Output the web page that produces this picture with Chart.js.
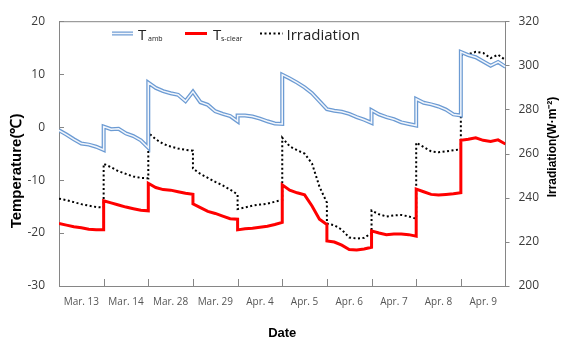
<!DOCTYPE html>
<html>
<head>
<meta charset="utf-8">
<script src="https://cdn.jsdelivr.net/npm/chart.js@4.4.1/dist/chart.umd.min.js"></script>
<style>
html,body{margin:0;padding:0;background:#fff;}
canvas{display:block;}
</style>
</head>
<body>
<canvas id="c" width="562" height="342"></canvas>
<script>
const dayLabels = ['Mar. 13','Mar. 14','Mar. 28','Mar. 29','Apr. 4','Apr. 5','Apr. 6','Apr. 7','Apr. 8','Apr. 9'];
const tempTicks = [-30, -20, -10, 0, 10, 20];
const irrTicks = [200, 220, 240, 260, 280, 300, 320];

// one row per day, values sampled evenly from start to end of that day
const tAmb = [
  [-0.6, -1.4, -2.3, -3.1, -3.3, -3.7, -4.3],
  [0.1, -0.4, -0.3, -1.2, -1.7, -2.5, -3.9],
  [8.4, 7.4, 6.8, 6.4, 6.1, 4.9, 6.7],
  [6.7, 4.7, 4.2, 3.0, 2.5, 2.1, 1.1],
  [2.2, 2.2, 2.0, 1.6, 1.1, 0.7, 0.6],
  [9.9, 9.2, 8.4, 7.5, 6.4, 4.9, 3.4],
  [3.4, 3.1, 2.9, 2.5, 1.9, 1.4, 0.8],
  [3.2, 2.4, 1.9, 1.5, 0.9, 0.6, 0.3],
  [5.3, 4.6, 4.3, 3.9, 3.3, 2.4, 2.2],
  [14.2, 13.6, 13.2, 12.4, 11.6, 12.3, 11.4]
];
const tsClear = [
  [-18.2, -18.5, -18.8, -19.0, -19.3, -19.4, -19.4],
  [-13.9, -14.3, -14.7, -15.1, -15.4, -15.7, -15.8],
  [-10.6, -11.4, -11.8, -11.9, -12.2, -12.5, -12.7],
  [-14.5, -15.2, -15.9, -16.3, -16.8, -17.3, -17.4],
  [-19.4, -19.2, -19.1, -18.9, -18.7, -18.4, -18.0],
  [-10.9, -11.9, -12.4, -12.8, -14.9, -17.4, -18.4],
  [-21.5, -21.7, -22.3, -23.1, -23.2, -23.0, -22.7],
  [-19.6, -20.0, -20.3, -20.2, -20.2, -20.3, -20.6],
  [-11.7, -12.2, -12.7, -12.8, -12.7, -12.6, -12.4],
  [-2.5, -2.3, -2.0, -2.5, -2.7, -2.4, -3.2]
];
const irradiation = [
  [239.6, 238.9, 238.0, 237.1, 236.4, 235.8, 235.6],
  [255.4, 253.8, 252.0, 250.8, 249.6, 249.0, 248.8],
  [269.4, 266.5, 264.4, 263.2, 262.3, 261.7, 261.3],
  [253.2, 250.8, 249.0, 247.2, 245.6, 243.7, 241.5],
  [234.9, 235.6, 236.4, 236.9, 237.3, 238.2, 239.0],
  [267.2, 263.3, 261.5, 260.0, 255.5, 245.0, 237.8],
  [228.3, 227.5, 225.5, 222.0, 221.5, 221.8, 224.0],
  [234.2, 232.5, 231.5, 232.0, 232.2, 231.5, 230.5],
  [265.0, 263.0, 261.0, 260.6, 261.0, 261.5, 262.0],
  [304.6, 305.0, 306.1, 305.6, 303.3, 304.8, 302.4]
];

function toPoints(series) {
  const pts = [];
  series.forEach((day, d) => {
    day.forEach((v, i) => pts.push({ x: d + i / (day.length - 1), y: v }));
  });
  return pts;
}

const AXIS = '#868686';
const TXT = '#3a3a3a';
const BLUE_OUT = '#6c9bd3';
const BLUE_IN = '#f2f6fc';

const decor = {
  id: 'decor',
  afterDraw(chart) {
    const ctx = chart.ctx;
    const { x, y, y1 } = chart.scales;
    const a = chart.chartArea;
    ctx.save();
    ctx.strokeStyle = AXIS;
    ctx.lineWidth = 1;
    ctx.beginPath();
    // top border of the plot box
    ctx.moveTo(a.left, a.top + 0.5);
    ctx.lineTo(a.right, a.top + 0.5);
    // x tick marks at day boundaries (inward)
    for (let i = 1; i < dayLabels.length; i++) {
      const px = Math.round(x.getPixelForValue(i)) + 0.5;
      ctx.moveTo(px, a.bottom);
      ctx.lineTo(px, a.bottom - 7);
    }
    tempTicks.forEach(v => {
      const py = Math.round(y.getPixelForValue(v)) + 0.5;
      ctx.moveTo(a.left, py);
      ctx.lineTo(a.left + 5, py);
    });
    irrTicks.forEach(v => {
      const py = Math.round(y1.getPixelForValue(v)) + 0.5;
      ctx.moveTo(a.right, py);
      ctx.lineTo(a.right + 4, py);
    });
    ctx.stroke();

    // axis titles
    ctx.fillStyle = '#000';
    ctx.textAlign = 'center';
    ctx.textBaseline = 'middle';
    ctx.font = 'bold 15px "Liberation Sans", Arial, sans-serif';
    ctx.save();
    ctx.translate(16.5, 171);
    ctx.rotate(-Math.PI / 2);
    ctx.fillText('Temperature(℃)', 0, 0);
    ctx.restore();
    ctx.font = 'bold 12px "Liberation Sans", Arial, sans-serif';
    ctx.save();
    ctx.translate(553, 147);
    ctx.rotate(-Math.PI / 2);
    ctx.fillText('Irradiation(W·m⁻²)', 0, 0);
    ctx.restore();
    ctx.font = 'bold 13px "Liberation Sans", Arial, sans-serif';
    ctx.fillText('Date', (a.left + a.right) / 2, 333);

    // legend
    const ly = 33.5;
    ctx.lineCap = 'butt';
    ctx.setLineDash([]);
    ctx.strokeStyle = BLUE_OUT; ctx.lineWidth = 4;
    ctx.beginPath(); ctx.moveTo(112, ly); ctx.lineTo(133, ly); ctx.stroke();
    ctx.strokeStyle = BLUE_IN; ctx.lineWidth = 1.6;
    ctx.beginPath(); ctx.moveTo(112, ly); ctx.lineTo(133, ly); ctx.stroke();
    ctx.strokeStyle = '#ff0000'; ctx.lineWidth = 3;
    ctx.beginPath(); ctx.moveTo(185, ly); ctx.lineTo(207, ly); ctx.stroke();
    ctx.strokeStyle = '#000'; ctx.lineWidth = 2; ctx.setLineDash([2, 2.5]);
    ctx.beginPath(); ctx.moveTo(260, ly); ctx.lineTo(283, ly); ctx.stroke();
    ctx.setLineDash([]);
    ctx.fillStyle = '#222';
    ctx.textAlign = 'left';
    ctx.textBaseline = 'alphabetic';
    const big = '15px "Open Sans", sans-serif';
    const small = '7px "Open Sans", sans-serif';
    ctx.font = big; ctx.fillText('T', 138, 39.5);
    ctx.font = small; ctx.fillText('amb', 148, 40.5);
    ctx.font = big; ctx.fillText('T', 213, 39.5);
    ctx.font = small; ctx.fillText('s-clear', 221, 40.5);
    ctx.font = big; ctx.fillText('Irradiation', 286.5, 39.5);
    ctx.restore();
  }
};

// Chart.js paints the first dataset last (on top)
new Chart(document.getElementById('c'), {
  type: 'line',
  data: {
    datasets: [
      { label: 'Tamb-inner', data: toPoints(tAmb), yAxisID: 'y',
        borderColor: BLUE_IN, borderWidth: 1.5, pointRadius: 0, tension: 0 },
      { label: 'Tamb', data: toPoints(tAmb), yAxisID: 'y',
        borderColor: BLUE_OUT, borderWidth: 4, pointRadius: 0, tension: 0 },
      { label: 'Ts-clear', data: toPoints(tsClear), yAxisID: 'y',
        borderColor: '#ff0000', borderWidth: 3, pointRadius: 0, tension: 0 },
      { label: 'Irradiation', data: toPoints(irradiation), yAxisID: 'y1',
        borderColor: '#000', borderWidth: 2, borderDash: [2, 2.5], pointRadius: 0, tension: 0 }
    ]
  },
  options: {
    responsive: false,
    animation: false,
    devicePixelRatio: 1,
    layout: { padding: { top: 13, left: 0, right: 0, bottom: 0 } },
    plugins: { legend: { display: false }, tooltip: { enabled: false } },
    scales: {
      x: {
        type: 'linear', min: 0, max: 10,
        afterBuildTicks: s => { s.ticks = dayLabels.map((_, i) => ({ value: i + 0.5 })); },
        afterFit: s => { s.height = 56; },
        grid: { display: false, drawTicks: false },
        border: { display: true, color: AXIS, width: 1 },
        ticks: {
          autoSkip: false, maxRotation: 0, padding: 10, color: '#555',
          font: { family: '"Open Sans", sans-serif', size: 10 },
          callback: (v, i) => dayLabels[i]
        }
      },
      y: {
        position: 'left', min: -30, max: 20,
        afterBuildTicks: s => { s.ticks = tempTicks.map(v => ({ value: v })); },
        afterFit: s => { s.width = 59; },
        grid: { display: false, drawTicks: false },
        border: { display: true, color: AXIS, width: 1 },
        ticks: { padding: 14, color: TXT, font: { family: '"Open Sans", sans-serif', size: 12 } }
      },
      y1: {
        position: 'right', min: 200, max: 320,
        afterBuildTicks: s => { s.ticks = irrTicks.map(v => ({ value: v })); },
        afterFit: s => { s.width = 56.5; },
        grid: { display: false, drawTicks: false },
        border: { display: true, color: AXIS, width: 1 },
        ticks: { padding: 13, color: TXT, font: { family: '"Open Sans", sans-serif', size: 12 } }
      }
    }
  },
  plugins: [decor]
});
</script>
</body>
</html>
